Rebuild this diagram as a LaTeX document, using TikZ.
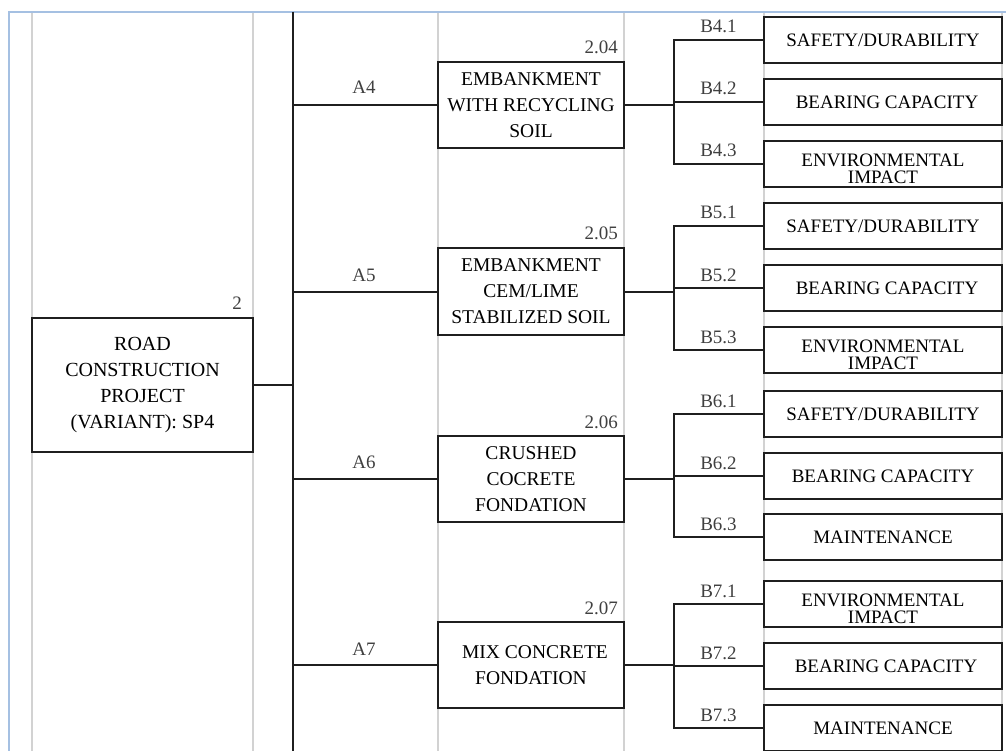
\documentclass[tikz,border=0pt]{standalone}
\usepackage{fontspec}
\setmainfont{Liberation Serif}
\usetikzlibrary{calc}
\definecolor{bluegrid}{HTML}{A5C0E2}
\definecolor{graygrid}{HTML}{D2D2D2}
\begin{document}
\begin{tikzpicture}[x=1pt,y=-1pt,
  ln/.style={line width=2pt, draw=black!88},
  gridln/.style={line width=1.5pt, draw=graygrid},
  blueln/.style={line width=2.4pt, draw=bluegrid},
  rootbox/.style={draw=black!88, line width=2pt, fill=white, minimum width=221pt, minimum height=134pt, inner sep=0pt, align=center, font=\fontsize{20}{26}\selectfont},
  midbox/.style={draw=black!88, line width=2pt, fill=white, minimum width=186pt, minimum height=86pt, inner sep=0pt, align=center, font=\fontsize{19.5}{26}\selectfont},
  critbox/.style={draw=black!88, line width=2pt, fill=white, minimum width=238pt, minimum height=46pt, inner sep=0pt, align=center, font=\fontsize{19}{17}\selectfont},
  envbox/.style={critbox, text height=39pt, text depth=0pt},
  lbl/.style={font=\fontsize{19}{20}\selectfont, text=black!75, inner sep=0pt}
]
\useasboundingbox (0,0) rectangle (1006,751);
\fill[white] (0,0) rectangle (1006,751);
% table grid
\foreach \gx in {32,253,438,624,764,1002} \draw[gridln] (\gx,12) -- (\gx,751);
\draw[blueln] (9,751) -- (9,12) -- (1006,12);

% trunk
\coordinate (tt) at (293,12);
\coordinate (tb) at (293,751);
\coordinate (bv) at (674,0);
\draw[ln] (tt) -- (tb);

% root
\node[rootbox] (root) at (142.5,385) {ROAD\\CONSTRUCTION\\PROJECT\\(VARIANT): SP4};
\node[lbl, anchor=base east] (rootlbl) at (242,309) {2};
\draw[ln] (root.east) -- (root.east -| tt);

% middle boxes
\node[midbox] (m4) at (531,105) {EMBANKMENT\\WITH RECYCLING\\SOIL};
\node[midbox] (m5) at (531,291.5) {EMBANKMENT\\CEM/LIME\\STABILIZED SOIL};
\node[midbox] (m6) at (531,479) {CRUSHED\\COCRETE\\FONDATION};
\node[midbox] (m7) at (531,665) {\hspace*{8pt}MIX CONCRETE\\FONDATION};

\node[lbl, anchor=base east] (n4) at (618,54) {2.04};
\node[lbl, anchor=base east] (n5) at (618,240) {2.05};
\node[lbl, anchor=base east] (n6) at (618,428) {2.06};
\node[lbl, anchor=base east] (n7) at (618,614) {2.07};

\foreach \m/\a/\ay in {m4/A4/94, m5/A5/281, m6/A6/468, m7/A7/655} {
  \draw[ln] (\m.west -| tt) -- (\m.west);
  \node[lbl, anchor=base] (l\m) at (364,\ay) {\a};
}

% criteria boxes
\node[critbox] (b41) at (883,40)  {SAFETY/DURABILITY};
\node[critbox] (b42) at (883,102) {\hspace*{8pt}BEARING CAPACITY};
\node[envbox]  (b43) at (883,164) {ENVIRONMENTAL\\IMPACT};
\node[critbox] (b51) at (883,226) {SAFETY/DURABILITY};
\node[critbox] (b52) at (883,288) {\hspace*{8pt}BEARING CAPACITY};
\node[envbox]  (b53) at (883,350) {ENVIRONMENTAL\\IMPACT};
\node[critbox] (b61) at (883,414) {SAFETY/DURABILITY};
\node[critbox] (b62) at (883,476) {BEARING CAPACITY};
\node[critbox] (b63) at (883,537) {MAINTENANCE};
\node[envbox]  (b71) at (883,604) {ENVIRONMENTAL\\IMPACT};
\node[critbox] (b72) at (883,666) {\hspace*{6pt}BEARING CAPACITY};
\node[critbox] (b73) at (883,728) {MAINTENANCE};

\foreach \g in {4,5,6,7} {
  \draw[ln] (b\g1.west) -- (b\g1.west -| bv) -- (b\g3.west -| bv) -- (b\g3.west);
  \draw[ln] (b\g2.west) -- (b\g2.west -| bv);
  \draw[ln] (m\g.east) -- (m\g.east -| bv);
  \foreach \k in {1,2,3} {
    \node[lbl, anchor=base] (lb\g\k) at ([yshift=7pt]$(b\g\k.west -| bv)!0.5!(b\g\k.west)$) {B\g.\k};
  }
}
\end{tikzpicture}
\end{document}
